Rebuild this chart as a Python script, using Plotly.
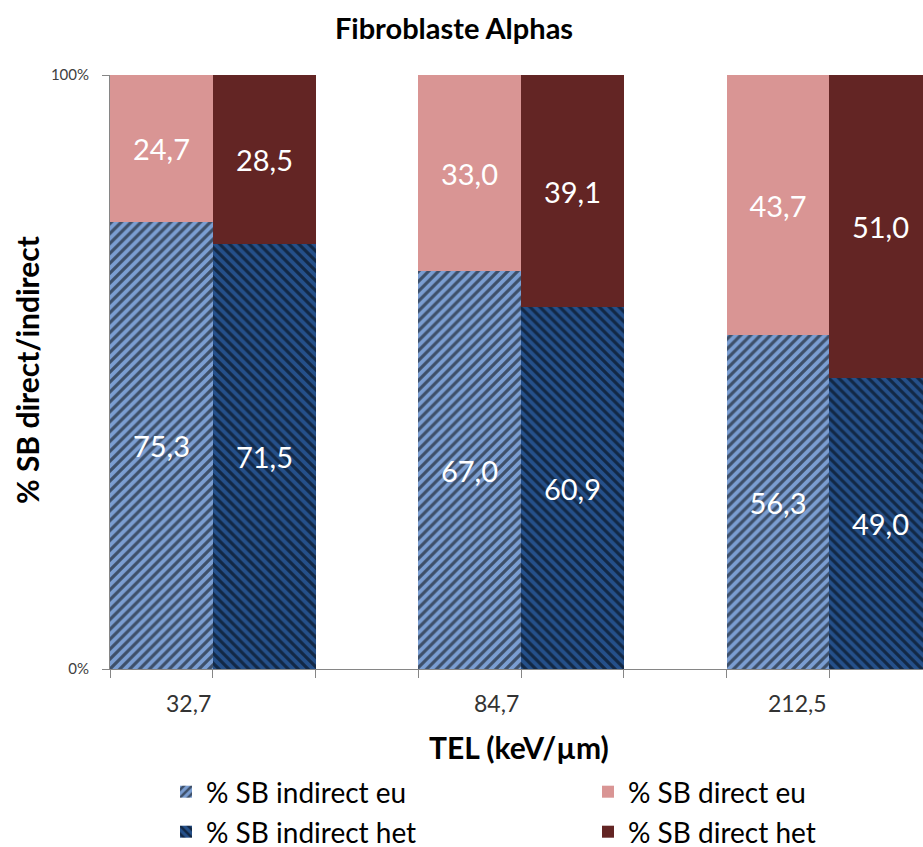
import plotly.graph_objects as go

# Linear energy transfer groups (keV/µm)
categories = ["32,7", "84,7", "212,5"]

# Percentage of strand breaks, euchromatin (eu) and heterochromatin (het)
indirect_eu = [75.3, 67.0, 56.3]
direct_eu = [24.7, 33.0, 43.7]
indirect_het = [71.5, 60.9, 49.0]
direct_het = [28.5, 39.1, 51.0]

series_names = ["% SB indirect eu", "% SB direct eu", "% SB indirect het", "% SB direct het"]

FONT = "Lato"
W, H = 923, 847
L, T, B = 110, 75, 669          # plot area edges in pixels
SLOT = 102.75                   # width of one bar slot in pixels
PLOT_W = W - L

# each group: eu bar in slot 3k, het bar in slot 3k+1, empty slot 3k+2
eu_x = [3 * i + 0.5 for i in range(len(categories))]
het_x = [3 * i + 1.5 for i in range(len(categories))]
widths = [1.0] * len(categories)


def py(p):
    """pixel row -> paper y"""
    return (B - p) / (B - T)


def px(p):
    """pixel column -> paper x"""
    return (p - L) / PLOT_W


label_font = dict(family=FONT, size=29, color="white")
bar_text = dict(texttemplate="%{y:.1f}", textposition="inside",
                insidetextanchor="middle", textfont=label_font)

fig = go.Figure()
fig.add_trace(go.Bar(
    x=eu_x, y=indirect_eu, width=widths, name=series_names[0],
    marker=dict(color="#7B9ED2", line=dict(width=0),
                pattern=dict(shape="/", fgcolor="black", bgcolor="#7B9ED2",
                             size=7, solidity=0.45, fillmode="overlay")),
    legend="legend", **bar_text,
))
fig.add_trace(go.Bar(
    x=eu_x, y=direct_eu, width=widths, name=series_names[1],
    marker=dict(color="#D99594", line=dict(width=0)),
    legend="legend2", **bar_text,
))
fig.add_trace(go.Bar(
    x=het_x, y=indirect_het, width=widths, name=series_names[2],
    marker=dict(color="#25508A", line=dict(width=0),
                pattern=dict(shape="\\", fgcolor="black", bgcolor="#25508A",
                             size=7, solidity=0.45, fillmode="overlay")),
    legend="legend3", **bar_text,
))
fig.add_trace(go.Bar(
    x=het_x, y=direct_het, width=widths, name=series_names[3],
    marker=dict(color="#632524", line=dict(width=0)),
    legend="legend4", **bar_text,
))

axis_grey = "#868686"
n_slots = 3 * len(categories)

fig.update_xaxes(
    range=[0, PLOT_W / SLOT], showgrid=False, zeroline=False,
    showline=True, linecolor=axis_grey, linewidth=1,
    ticks="outside", ticklen=8, tickcolor=axis_grey, tickwidth=1,
    tickvals=list(range(n_slots)), showticklabels=False, fixedrange=True,
)
fig.update_yaxes(
    range=[0, 100], showgrid=False, zeroline=False,
    showline=True, linecolor=axis_grey, linewidth=1,
    ticks="outside", ticklen=7, tickcolor=axis_grey, tickwidth=1,
    tickvals=[0, 100], ticktext=["0%", "100%"], ticklabelstandoff=10,
    tickfont=dict(family=FONT, size=15, color="#404040"),
)

# category labels, right-aligned on the boundary between the two bars of a group
for i, cat in enumerate(categories):
    fig.add_annotation(
        x=3 * i + 1, y=py(703), xref="x", yref="paper", text=cat,
        showarrow=False, xanchor="right", yanchor="middle",
        font=dict(family=FONT, size=23, color="#333333"),
    )

# axis titles
fig.add_annotation(
    x=px(519), y=py(747), xref="paper", yref="paper", text="<b>TEL (keV/µm)</b>",
    showarrow=False, xanchor="center", yanchor="middle",
    font=dict(family=FONT, size=30, color="black"),
)
fig.add_annotation(
    x=px(27), y=py(370), xref="paper", yref="paper", text="<b>% SB direct/indirect</b>",
    showarrow=False, xanchor="center", yanchor="middle", textangle=-90,
    font=dict(family=FONT, size=30, color="black"),
)

legend_common = dict(
    orientation="h", xref="paper", yref="paper", xanchor="left", yanchor="middle",
    font=dict(family=FONT, size=28, color="black"), bgcolor="rgba(0,0,0,0)",
)

fig.update_layout(
    width=W, height=H,
    margin=dict(l=L, r=0, t=T, b=H - B, autoexpand=False),
    plot_bgcolor="white", paper_bgcolor="white",
    barmode="stack", bargap=0, separators=", ",
    title=dict(text="<b>Fibroblaste Alphas</b>", x=454 / W, xanchor="center",
               y=1 - 29 / H, yanchor="middle",
               font=dict(family=FONT, size=29, color="black")),
    legend=dict(x=px(166), y=py(792), **legend_common),
    legend2=dict(x=px(588), y=py(792), **legend_common),
    legend3=dict(x=px(166), y=py(832), **legend_common),
    legend4=dict(x=px(588), y=py(832), **legend_common),
    showlegend=True,
)

fig.write_html("out.html")
